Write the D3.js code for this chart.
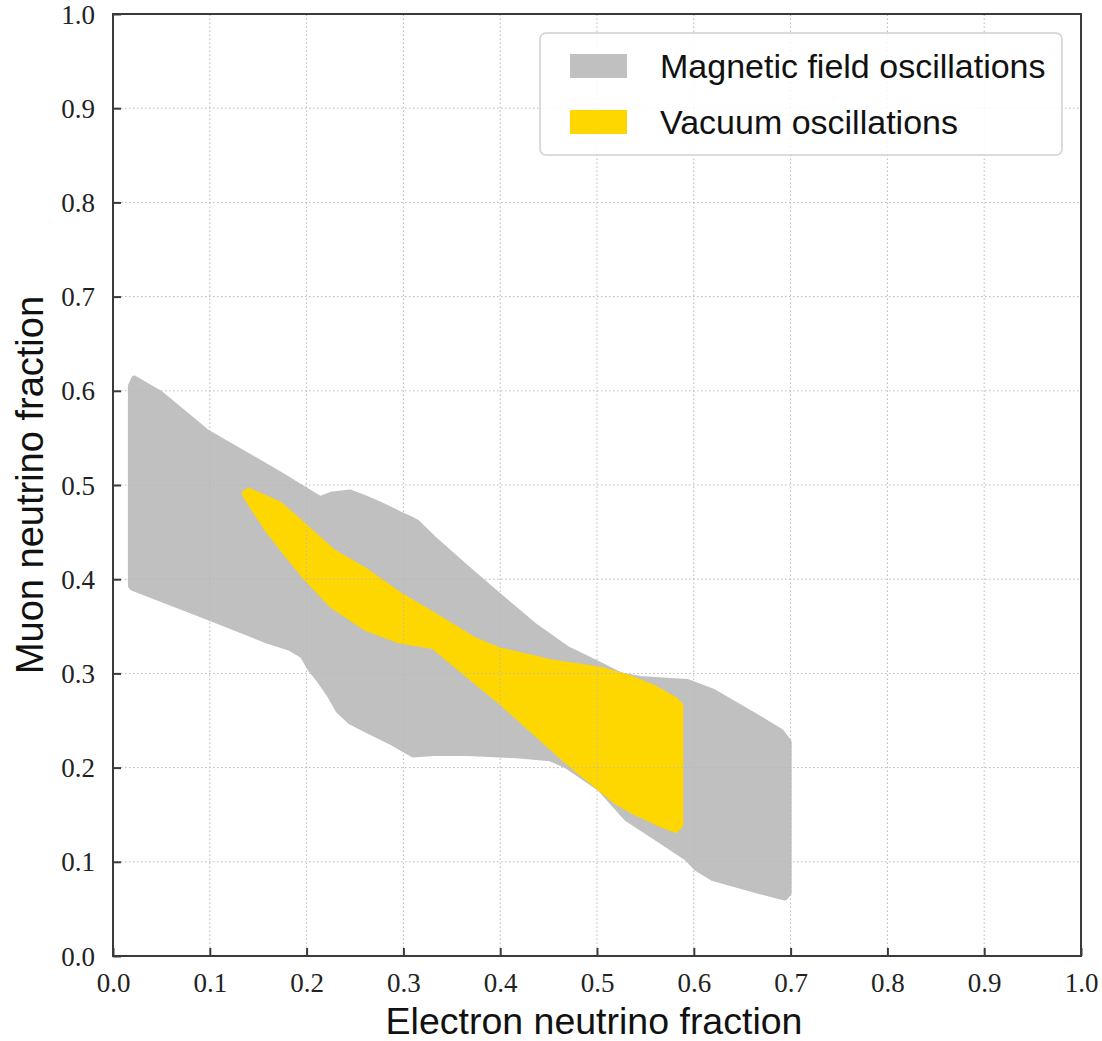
<!DOCTYPE html>
<html>
<head>
<meta charset="utf-8">
<script src="https://cdn.jsdelivr.net/npm/d3@7"></script>
<style>
  html, body { margin: 0; padding: 0; background: #fff; }
  svg { display: block; }
</style>
</head>
<body>
<svg id="chart" width="1102" height="1041"></svg>
<script>
// ---- Data ----
const xTicks = [0.0, 0.1, 0.2, 0.3, 0.4, 0.5, 0.6, 0.7, 0.8, 0.9, 1.0];
const yTicks = [0.0, 0.1, 0.2, 0.3, 0.4, 0.5, 0.6, 0.7, 0.8, 0.9, 1.0];
const seriesNames = ["Magnetic field oscillations", "Vacuum oscillations"];
const seriesColors = ["#c0c0c0", "#ffd700"];

// Boundary of the magnetic-field region (electron fraction, muon fraction)
const magneticRegion = [
  [0.022, 0.613], [0.0486, 0.597], [0.097, 0.556], [0.1725, 0.511], [0.193, 0.498],
  [0.214, 0.485], [0.227, 0.490], [0.245, 0.492], [0.258, 0.487], [0.276, 0.479],
  [0.296, 0.469], [0.307, 0.464], [0.314, 0.460], [0.331, 0.443], [0.366, 0.411],
  [0.400, 0.381], [0.434, 0.3515], [0.469, 0.326], [0.503, 0.309], [0.524, 0.298],
  [0.544, 0.294], [0.593, 0.291], [0.620, 0.2805], [0.661, 0.256], [0.690, 0.238],
  [0.698, 0.227], [0.698, 0.067], [0.694, 0.062], [0.668, 0.069], [0.620, 0.0827],
  [0.603, 0.0933], [0.593, 0.104], [0.558, 0.128], [0.531, 0.146], [0.503, 0.178],
  [0.469, 0.202], [0.4515, 0.210], [0.417, 0.213], [0.366, 0.2154], [0.331, 0.2154],
  [0.310, 0.214], [0.286, 0.228], [0.262, 0.240], [0.245, 0.249], [0.2327, 0.261],
  [0.224, 0.277], [0.214, 0.292], [0.2035, 0.3056], [0.196, 0.319], [0.183, 0.327],
  [0.159, 0.335], [0.100, 0.359], [0.020, 0.391], [0.0185, 0.393], [0.0185, 0.605]
];

// Boundary of the vacuum-oscillation region
const vacuumRegion = [
  [0.136, 0.491], [0.140, 0.494], [0.1725, 0.479], [0.200, 0.454], [0.227, 0.429],
  [0.262, 0.408], [0.296, 0.383], [0.331, 0.362], [0.372, 0.336], [0.397, 0.325],
  [0.4515, 0.312], [0.503, 0.304], [0.531, 0.296], [0.558, 0.285], [0.5805, 0.272],
  [0.586, 0.266], [0.586, 0.139], [0.581, 0.134], [0.568, 0.139], [0.537, 0.154],
  [0.520, 0.164], [0.469, 0.207], [0.400, 0.2706], [0.331, 0.329], [0.296, 0.335],
  [0.262, 0.348], [0.227, 0.372], [0.200, 0.401], [0.180, 0.426], [0.159, 0.454],
  [0.140, 0.484]
];

const xLabel = "Electron neutrino fraction";
const yLabel = "Muon neutrino fraction";

// ---- Chart ----
const svg = d3.select("#chart");
const x = d3.scaleLinear().domain([0, 1]).range([113, 1081]);
const y = d3.scaleLinear().domain([0, 1]).range([956, 14]);

const line = d3.line().x(d => x(d[0])).y(d => y(d[1])).curve(d3.curveLinearClosed);

// regions
svg.append("path")
  .attr("d", line(magneticRegion))
  .attr("fill", seriesColors[0])
  .attr("stroke", seriesColors[0])
  .attr("stroke-width", 6)
  .attr("stroke-linejoin", "round");

svg.append("path")
  .attr("d", line(vacuumRegion))
  .attr("fill", seriesColors[1])
  .attr("stroke", seriesColors[1])
  .attr("stroke-width", 6)
  .attr("stroke-linejoin", "round");

// grid (drawn above)
const grid = svg.append("g");
grid.selectAll("line.gx").data(xTicks.slice(1, -1)).enter().append("line")
  .attr("x1", d => x(d)).attr("x2", d => x(d))
  .attr("y1", y(0)).attr("y2", y(1))
  .attr("stroke", "#b8b8b8").attr("stroke-width", 1)
  .attr("stroke-dasharray", "1.5,2.5");
grid.selectAll("line.gy").data(yTicks.slice(1, -1)).enter().append("line")
  .attr("y1", d => y(d)).attr("y2", d => y(d))
  .attr("x1", x(0)).attr("x2", x(1))
  .attr("stroke", "#b8b8b8").attr("stroke-width", 1)
  .attr("stroke-dasharray", "1.5,2.5");

// axes
const fmt = d3.format(".1f");
const xAxis = d3.axisBottom(x).tickValues(xTicks).tickFormat(fmt).tickSizeInner(-8).tickSizeOuter(0).tickPadding(18);
const yAxis = d3.axisLeft(y).tickValues(yTicks).tickFormat(fmt).tickSizeInner(-8).tickSizeOuter(0).tickPadding(18);

const gx = svg.append("g").attr("transform", `translate(0,${y(0)})`).call(xAxis);
const gy = svg.append("g").attr("transform", `translate(${x(0)},0)`).call(yAxis);
[gx, gy].forEach(g => {
  g.select(".domain").remove();
  g.selectAll(".tick line").attr("stroke", "#3a3a3a").attr("stroke-width", 2);
  g.selectAll(".tick text")
    .attr("font-family", "'Liberation Serif', 'DejaVu Serif', serif")
    .attr("font-size", 27)
    .attr("fill", "#222");
});
gx.selectAll(".tick text").attr("dy", "0.68em");
gy.selectAll(".tick text").attr("dy", "0.34em");

// frame
svg.append("rect")
  .attr("x", x(0)).attr("y", y(1))
  .attr("width", x(1) - x(0)).attr("height", y(0) - y(1))
  .attr("fill", "none").attr("stroke", "#3a3a3a").attr("stroke-width", 2);

// axis labels
svg.append("text")
  .attr("x", 594).attr("y", 1034)
  .attr("text-anchor", "middle")
  .attr("font-family", "'Liberation Sans', Arial, sans-serif")
  .attr("font-size", 37.5)
  .attr("fill", "#111")
  .text(xLabel);

svg.append("text")
  .attr("transform", "translate(43,485) rotate(-90)")
  .attr("text-anchor", "middle")
  .attr("font-family", "'Liberation Sans', Arial, sans-serif")
  .attr("font-size", 38)
  .attr("fill", "#111")
  .text(yLabel);

// legend
const lg = svg.append("g");
lg.append("rect")
  .attr("x", 540).attr("y", 33).attr("width", 522).attr("height", 122)
  .attr("rx", 6).attr("ry", 6)
  .attr("fill", "#fff").attr("fill-opacity", 0.85)
  .attr("stroke", "#d0d0d0").attr("stroke-width", 1.5);
const rows = [66, 122];
seriesNames.forEach((name, i) => {
  lg.append("rect")
    .attr("x", 570).attr("y", rows[i] - 12).attr("width", 57).attr("height", 24)
    .attr("fill", seriesColors[i]);
  lg.append("text")
    .attr("x", 660).attr("y", rows[i]).attr("dy", "0.35em")
    .attr("font-family", "'Liberation Sans', Arial, sans-serif")
    .attr("font-size", 34)
    .attr("fill", "#111")
    .text(name);
});
</script>
</body>
</html>
